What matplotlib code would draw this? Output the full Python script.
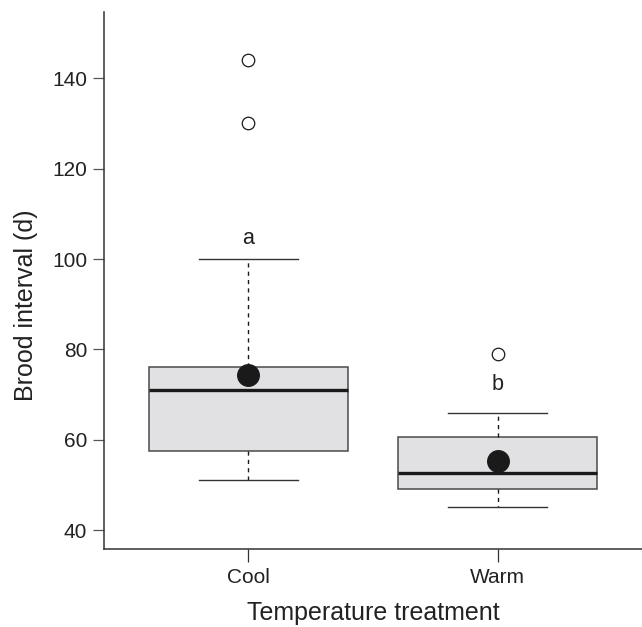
import matplotlib
matplotlib.use("Agg")
import matplotlib.pyplot as plt

plt.rcParams['font.family'] = ['Liberation Sans', 'DejaVu Sans']

# summary statistics per treatment
treatments = ["Cool", "Warm"]
q1 = [57.6, 49.1]
medians = [71.1, 52.6]
q3 = [76.1, 60.6]
whisker_low = [51.0, 45.0]
whisker_high = [100.0, 66.0]
means = [74.4, 55.3]
outliers = [[130.0, 144.0], [79.0]]
letters = ["a", "b"]
letter_y = [104.5, 72.3]

stats = []
for i, name in enumerate(treatments):
    stats.append(dict(label=name, q1=q1[i], med=medians[i], q3=q3[i],
                      whislo=whisker_low[i], whishi=whisker_high[i],
                      mean=means[i], fliers=outliers[i]))

fig = plt.figure(figsize=(6.42, 6.27), dpi=100)
ax = fig.add_axes([0.162, 0.1244, 0.838, 0.8566])

edge = "#4a4a4a"
ax.bxp(stats, positions=[1, 2], widths=0.8, patch_artist=True,
       showmeans=True, showfliers=True,
       boxprops=dict(facecolor="#e1e1e3", edgecolor=edge, linewidth=1.1),
       medianprops=dict(color="#1a1a1a", linewidth=2.4, solid_capstyle="butt"),
       whiskerprops=dict(color="#1a1a1a", linewidth=1.0, linestyle=(0, (3, 3))),
       capprops=dict(color="#333333", linewidth=1.0),
       capwidths=0.4,
       meanprops=dict(marker="o", markerfacecolor="#1a1a1a",
                      markeredgecolor="#1a1a1a", markersize=15.5),
       flierprops=dict(marker="o", markerfacecolor="white",
                       markeredgecolor="#1a1a1a", markersize=9,
                       markeredgewidth=0.9))

for i, lab in enumerate(letters):
    ax.text(i + 1, letter_y[i], lab, ha="center", va="center", fontsize=15.5,
            color="#222222")

ax.set_xlim(0.42, 2.58)
ax.set_ylim(35.8, 154.7)
ax.set_yticks([40, 60, 80, 100, 120, 140])
ax.set_xticks([1, 2])
ax.set_xticklabels(treatments)

for side in ["top", "right"]:
    ax.spines[side].set_visible(False)
for side in ["left", "bottom"]:
    ax.spines[side].set_color("#333333")
    ax.spines[side].set_linewidth(1.1)

ax.tick_params(axis="y", length=8, width=0.9, color="#555555",
               labelsize=15, labelcolor="#222222", pad=4)
ax.tick_params(axis="x", length=9, width=0.9, color="#333333",
               labelsize=15, labelcolor="#222222", pad=5)

ax.set_xlabel("Temperature treatment", fontsize=18, color="#222222")
ax.set_ylabel("Brood interval (d)", fontsize=18, color="#222222")
ax.xaxis.set_label_coords(0.5, -0.096)
ax.yaxis.set_label_coords(-0.123, 0.454)

fig.savefig("out.png", dpi=100)
